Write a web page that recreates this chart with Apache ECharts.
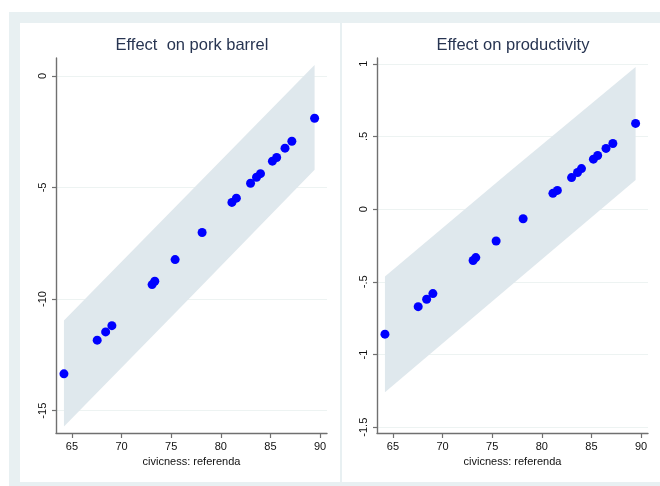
<!DOCTYPE html>
<html>
<head>
<meta charset="utf-8">
<script src="https://cdn.jsdelivr.net/npm/echarts@6.0.0/dist/echarts.min.js"></script>
<style>
  html, body { margin: 0; padding: 0; background: #fff; }
  #chart { width: 660px; height: 486px; }
</style>
</head>
<body>
<div id="chart"></div>
<script>
// civicness (referenda) per region, same for both panels
var civicness = [89.45, 87.16, 86.47, 85.63, 85.2, 84.0, 83.6, 83.0, 81.57, 81.12,
                 78.12, 75.4, 73.35, 73.08, 69.03, 68.4, 67.55, 64.2];
var porkBarrel = [-1.90, -2.93, -3.24, -3.66, -3.82, -4.38, -4.54, -4.81, -5.48, -5.67,
                  -7.02, -8.23, -9.20, -9.35, -11.19, -11.47, -11.84, -13.35];
var productivity = [0.59, 0.452, 0.418, 0.369, 0.344, 0.279, 0.252, 0.217, 0.129, 0.109,
                    -0.066, -0.219, -0.333, -0.353, -0.581, -0.62, -0.671, -0.86];

// confidence band edges, read at a few civicness points
var bandCiv = [64.2, 76.8, 89.45];
var porkUpper = [-10.96, -5.25, 0.49];
var porkLower = [-15.71, -9.99, -4.21];
var prodUpper = [-0.463, 0.26, 0.978];
var prodLower = [-1.259, -0.53, 0.2];

var xTicks = [65, 70, 75, 80, 85, 90];
var porkTicks = [-15, -10, -5, 0];
var prodTicks = [-1.5, -1, -0.5, 0, 0.5, 1];
var prodTickLabels = ['-1.5', '-1', '-.5', '0', '.5', '1'];

var font = 'Liberation Sans, Arial, sans-serif';
var axisColor = '#707070';

function bandSeries(idx, upper, lower) {
  return {
    type: 'custom',
    xAxisIndex: idx,
    yAxisIndex: idx,
    silent: true,
    z: 1,
    data: [[bandCiv[0], upper[0]]],
    renderItem: function (params, api) {
      var pts = [];
      for (var i = 0; i < bandCiv.length; i++) pts.push(api.coord([bandCiv[i], upper[i]]));
      for (var j = bandCiv.length - 1; j >= 0; j--) pts.push(api.coord([bandCiv[j], lower[j]]));
      return { type: 'polygon', shape: { points: pts }, style: { fill: '#dfe8ed' } };
    }
  };
}

function xAxisFor(idx) {
  return {
    type: 'value', gridIndex: idx, min: 63.4, max: 90.7,
    axisLine: { show: true, onZero: false, lineStyle: { color: axisColor, width: 1.4 } },
    axisTick: { show: true, length: 5, customValues: xTicks, lineStyle: { color: axisColor, width: 1.2 } },
    axisLabel: { customValues: xTicks, fontSize: 11, color: '#111', margin: 8, fontFamily: font },
    splitLine: { show: false },
    name: 'civicness: referenda', nameLocation: 'middle', nameGap: 23,
    nameTextStyle: { fontSize: 11, color: '#111', fontFamily: font }
  };
}

function yAxisFor(idx, min, max, ticks, fmt) {
  return {
    type: 'value', gridIndex: idx, min: min, max: max,
    axisLine: { show: true, onZero: false, lineStyle: { color: axisColor, width: 1.4 } },
    axisTick: { show: true, length: 4, customValues: ticks, lineStyle: { color: axisColor, width: 1.2 } },
    axisLabel: { customValues: ticks, rotate: 90, fontSize: 11, color: '#111', margin: 8,
                 fontFamily: font, formatter: fmt },
    splitLine: { show: true, lineStyle: { color: '#edf3f2', width: 1.2 } }
  };
}

var chart = echarts.init(document.getElementById('chart'));
chart.setOption({
  animation: false,
  backgroundColor: '#fff',
  graphic: [
    { type: 'rect', shape: { x: 9, y: 12, width: 651, height: 474 }, style: { fill: '#e8f0f2' }, z: -10 },
    { type: 'rect', shape: { x: 20, y: 23, width: 320, height: 459 }, style: { fill: '#fff' }, z: -9 },
    { type: 'rect', shape: { x: 342, y: 23, width: 318, height: 459 }, style: { fill: '#fff' }, z: -9 }
  ],
  title: [
    { text: 'Effect  on pork barrel', left: 192, top: 37, textAlign: 'center', padding: 0,
      textStyle: { fontSize: 16.5, fontWeight: 'normal', color: '#283552', fontFamily: font } },
    { text: 'Effect on productivity', left: 513, top: 37, textAlign: 'center', padding: 0,
      textStyle: { fontSize: 16.5, fontWeight: 'normal', color: '#283552', fontFamily: font } }
  ],
  grid: [
    { left: 56, top: 58, width: 271, height: 375, containLabel: false },
    { left: 377, top: 58, width: 271, height: 375, containLabel: false }
  ],
  xAxis: [xAxisFor(0), xAxisFor(1)],
  yAxis: [
    yAxisFor(0, -16, 0.8, porkTicks, function (v) { return String(v); }),
    yAxisFor(1, -1.54, 1.04, prodTicks, function (v) {
      var i = prodTicks.indexOf(v);
      return i >= 0 ? prodTickLabels[i] : '';
    })
  ],
  series: [
    bandSeries(0, porkUpper, porkLower),
    bandSeries(1, prodUpper, prodLower),
    {
      type: 'scatter', xAxisIndex: 0, yAxisIndex: 0, z: 3, symbolSize: 9,
      itemStyle: { color: '#0000ff', opacity: 1 },
      data: civicness.map(function (c, i) { return [c, porkBarrel[i]]; })
    },
    {
      type: 'scatter', xAxisIndex: 1, yAxisIndex: 1, z: 3, symbolSize: 9,
      itemStyle: { color: '#0000ff', opacity: 1 },
      data: civicness.map(function (c, i) { return [c, productivity[i]]; })
    }
  ]
});
</script>
</body>
</html>
